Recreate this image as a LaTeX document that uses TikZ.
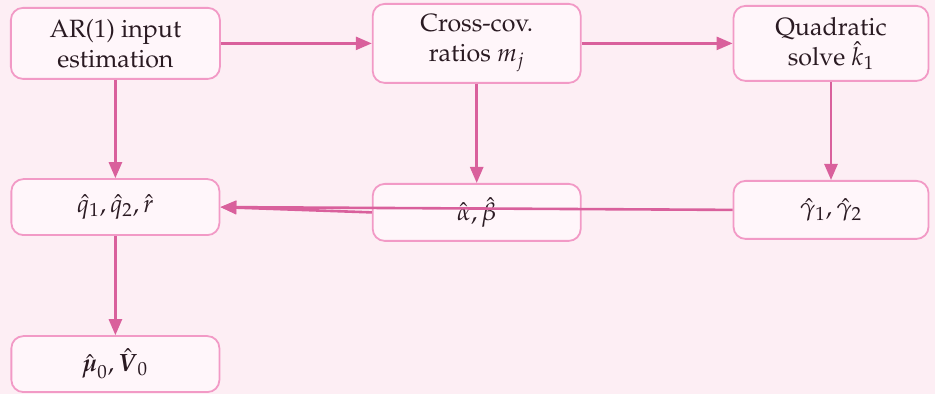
\documentclass[tikz,border=0pt]{standalone}
\usepackage[T1]{fontenc}
\usepackage{amsmath}
\usepackage{amssymb}
\usepackage{mathpazo}
\usepackage{xcolor}
\usepackage{tikz}
\usetikzlibrary{positioning, arrows.meta, backgrounds}

\definecolor{pagebg}{HTML}{FDEEF4}
\definecolor{boxfill}{HTML}{FFF6FA}
\definecolor{boxline}{HTML}{F29AC6}
\definecolor{arrline}{HTML}{D9609C}
\definecolor{inktext}{HTML}{2A1A22}

\begin{document}
\begin{tikzpicture}[
  box/.style={draw=boxline, line width=0.9pt, rounded corners=6pt,
              fill=boxfill, text=inktext, align=center, inner sep=2pt,
              font=\fontsize{12.5}{15}\selectfont},
  arr/.style={-{Triangle[length=8pt, width=6.5pt]}, line width=1.3pt, draw=arrline},
]
% top row
\node[box, minimum width=104.5pt, minimum height=35.5pt] (ar)
  {AR(1) input\\estimation};
\node[box, right=75.5pt of ar, minimum width=104pt, minimum height=39.5pt] (cc)
  {Cross-cov.\\ratios $m_j$};
\node[box, right=75.5pt of cc, minimum width=97.5pt, minimum height=37.5pt] (qs)
  {Quadratic\\solve $\hat{k}_1$};
% estimates
\node[box, below=49.2pt of ar, minimum width=104pt, minimum height=28pt] (qr)
  {$\hat{q}_1, \hat{q}_2, \hat{r}$};
\node[box, below=49.6pt of cc, minimum width=104pt, minimum height=28.5pt] (ab)
  {$\hat{\alpha}, \hat{\beta}$};
\node[box, below=49.1pt of qs, minimum width=97.5pt, minimum height=29pt] (gm)
  {$\hat{\gamma}_1, \hat{\gamma}_2$};
\node[box, below=49.6pt of qr, minimum width=104pt, minimum height=28pt] (mv)
  {$\hat{\boldsymbol{\mu}}_0, \hat{\boldsymbol{V}}_0$};
% page
\coordinate (tl) at ([shift={(-5pt,3.5pt)}]ar.north west);
\coordinate (br) at ([shift={(467.5pt,-197pt)}]tl);
\begin{scope}[on background layer]
  \fill[pagebg] (tl) rectangle (br);
\end{scope}
\useasboundingbox (tl) rectangle (br);
\draw[arr] (ar) -- (cc);
\draw[arr] (cc) -- (qs);
\draw[arr] (ar) -- (qr);
\draw[arr] (cc) -- (ab);
\draw[arr] (qs) -- (gm);
\draw[arr] (qr) -- (mv);
\draw[arr] (ab.west) -- (qr.east);
\draw[arr] (gm.west) -- (qr.east);
\end{tikzpicture}
\end{document}
